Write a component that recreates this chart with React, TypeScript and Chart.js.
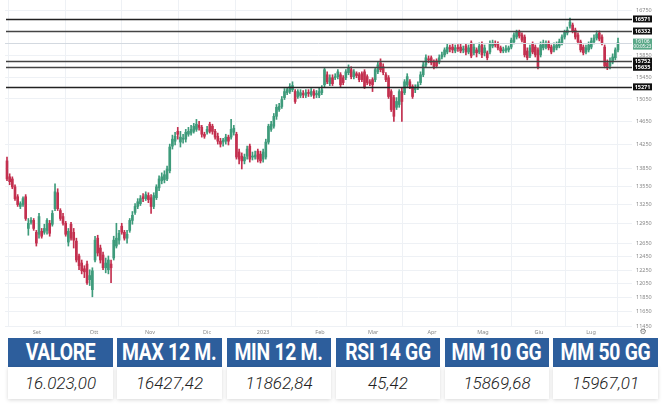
import React, { useEffect, useRef } from "react";
import { Chart, registerables } from "chart.js";
Chart.register(...registerables);

const opens = [13970,13705,13670,13540,13380,13225,13255,13380,12880,12975,13005,12820,12790,12835,12820,12850,12960,12945,13190,13445,13160,13065,12960,12670,12945,12820,12685,12460,12355,12270,12340,12110,11965,12400,12730,12580,12475,12285,12255,12340,12430,12610,12700,12915,12820,12730,12850,13005,13130,13225,13270,13380,13350,13400,13365,13225,13365,13525,13640,13655,13670,13805,14220,14305,14475,14290,14340,14340,14425,14445,14475,14510,14580,14545,14425,14460,14600,14565,14475,14390,14305,14290,14305,14375,14375,14460,14425,14120,14050,13970,14050,14220,14035,14035,14135,14085,14000,14035,14290,14510,14565,14740,14860,14915,15075,15165,15185,15220,15185,15095,15115,15150,15115,15165,15130,15185,15130,15115,15165,15310,15495,15330,15440,15440,15460,15495,15440,15440,15535,15590,15460,15515,15495,15515,15550,15460,15365,15405,15405,15550,15720,15645,15495,15440,15185,15075,14900,14950,15185,15165,15310,15365,15275,15220,15260,15350,15495,15680,15795,15815,15735,15755,15735,15830,15870,15925,16005,16020,15945,16010,16020,15965,16040,15925,16100,15910,15965,15925,16060,15910,15910,15925,16040,16080,16080,16005,15945,15955,15965,16020,16120,16215,16315,16255,16215,15945,15850,16080,16020,15965,15870,16005,16020,16100,16020,15965,16005,16040,16100,16215,16295,16430,16450,16350,16255,16120,16020,15925,15965,16020,16120,16195,16295,16215,16020,15720,15660,15735,15815,15965];
const highs = [14035,13755,13705,13575,13415,13300,13380,13415,13035,13050,13035,12850,13115,12880,12945,13035,13005,13160,13590,13510,13190,13115,12990,12880,12975,12880,12730,12490,12400,12315,12385,12255,12285,12760,12775,12625,12520,12430,12460,12400,12760,12960,12850,12960,12850,12850,13035,13145,13270,13350,13400,13430,13460,13445,13415,13445,13575,13720,13770,13805,13885,14255,14410,14460,14545,14475,14425,14510,14545,14580,14615,14685,14650,14580,14460,14565,14635,14600,14510,14445,14355,14355,14425,14410,14685,14580,14460,14170,14105,14085,14220,14255,14120,14135,14170,14135,14170,14340,14600,14650,14790,14950,14970,15095,15240,15260,15330,15365,15220,15220,15220,15205,15220,15220,15240,15220,15205,15260,15295,15625,15550,15495,15495,15515,15590,15535,15480,15590,15680,15645,15590,15550,15535,15550,15590,15495,15405,15440,15625,15735,15795,15700,15535,15480,15220,15115,15075,15220,15260,15405,15515,15405,15310,15310,15365,15550,15735,15870,15850,15850,15775,15795,15870,15925,16005,16080,16060,16080,16060,16070,16080,16040,16080,16060,16140,16080,16005,16100,16120,16060,15945,16140,16155,16140,16120,16040,16020,16050,16040,16195,16295,16350,16350,16295,16255,16005,16060,16120,16060,16005,16120,16155,16140,16140,16060,16100,16120,16175,16255,16350,16410,16590,16490,16390,16295,16155,16060,16060,16120,16195,16255,16335,16335,16255,16060,15775,15815,15890,16005,16195];
const lows = [13640,13575,13510,13320,13225,13190,13225,13005,12775,12945,12850,12610,12730,12730,12790,12790,12760,12915,13160,13160,13005,12930,12760,12610,12700,12580,12370,12255,12195,12140,12040,12025,11863,12370,12460,12355,12255,12210,12195,12065,12400,12580,12640,12790,12700,12655,12820,12945,13100,13190,13240,13300,13320,13285,13115,13190,13335,13480,13590,13605,13640,13770,14170,14240,14340,14205,14270,14290,14390,14410,14445,14475,14495,14375,14355,14425,14445,14425,14340,14255,14205,14220,14255,14240,14340,14410,14000,13920,13835,13920,14000,13950,13985,14000,13950,13935,13950,14000,14255,14475,14530,14685,14825,14880,15040,15130,15150,15185,14970,15060,15075,15075,15075,15095,15095,15060,15075,15075,15130,15275,15330,15295,15295,15405,15420,15275,15310,15405,15495,15420,15420,15440,15365,15365,15240,15310,15295,15185,15365,15515,15550,15495,15365,15060,14825,14650,14860,14900,14650,15130,15275,15240,15060,15165,15220,15310,15460,15645,15720,15680,15605,15625,15700,15795,15830,15890,15925,15910,15910,15935,15910,15910,15870,15890,15815,15870,15830,15890,15815,15850,15775,15890,16005,16020,15965,15910,15910,15915,15925,15985,16080,16175,16195,16120,15830,15775,15815,15890,15830,15605,15830,15965,15985,15965,15890,15925,15965,16005,16060,16175,16255,16390,16295,16175,16080,15925,15870,15890,15925,15985,16080,16155,16140,16060,15625,15590,15605,15700,15775,15925];
const closes = [13670,13625,13540,13350,13255,13270,13350,13035,12960,13005,12880,12655,13065,12760,12880,13005,12805,13115,13460,13190,13035,12960,12790,12835,12730,12700,12400,12315,12240,12225,12065,12170,12240,12700,12505,12400,12285,12355,12400,12285,12700,12730,12805,12820,12730,12790,13005,13085,13225,13300,13350,13350,13415,13335,13225,13400,13540,13670,13705,13740,13835,14205,14340,14390,14425,14375,14355,14460,14475,14510,14565,14600,14545,14425,14390,14510,14475,14475,14375,14305,14255,14325,14375,14305,14510,14530,14035,14000,13970,14035,14170,14000,14050,14070,14000,13970,14120,14290,14565,14600,14740,14900,14915,15040,15185,15220,15275,15295,15005,15185,15165,15130,15165,15150,15185,15115,15150,15185,15220,15590,15365,15440,15330,15460,15550,15310,15350,15550,15625,15460,15550,15480,15405,15405,15275,15350,15330,15310,15590,15680,15590,15535,15405,15095,14860,14740,15005,15185,15005,15365,15460,15275,15095,15260,15310,15495,15680,15815,15775,15720,15645,15660,15815,15870,15965,16020,15985,15965,16005,15990,15945,15985,15925,16005,15850,16020,15910,16040,15870,16005,15815,16080,16100,16060,16005,15945,15965,15990,16005,16155,16255,16315,16235,16155,15870,15815,16005,15925,15870,15645,16060,16100,16080,16005,15925,16040,16060,16120,16215,16315,16350,16510,16335,16215,16120,15965,15910,16005,16060,16140,16195,16275,16175,16100,15660,15625,15735,15830,15965,16106];

const monthLabels = ["Set", "Ott", "Nov", "Dic", "2023", "Feb", "Mar", "Apr", "Mag", "Giu", "Lug"];
const monthPos = [11.2, 32.6, 53.6, 75, 96, 117.3, 137.2, 159.3, 178.4, 199.4, 218.9];
const yTicks = [11450, 11650, 11850, 12050, 12250, 12450, 12650, 12950, 13250, 13550, 13850, 14250, 14650, 15050, 15450, 15850, 16750];
const levels = [16571, 16332, 15752, 15635, 15271];
const lastPrice = 16106;
const countdown = "00:05:23";

const headers = ["VALORE", "MAX 12 M.", "MIN 12 M.", "RSI 14 GG", "MM 10 GG", "MM 50 GG"];
const values = ["16.023,00", "16427,42", "11862,84", "45,42", "15869,68", "15967,01"];

const UP = "#3e9b7b";
const DOWN = "#c3304f";
const FONT = "'Noto Sans', 'DejaVu Sans', sans-serif";

const colLeft = [8, 117, 227, 336, 445, 553];
const colWidth = [105, 105, 104, 104, 104, 105];

export default function App() {
  const ref = useRef<HTMLCanvasElement | null>(null);

  useEffect(() => {
    if (!ref.current) return;
    const colors = opens.map((o, i) => (closes[i] >= o ? UP : DOWN));

    const levelsPlugin = {
      id: "levels",
      afterDatasetsDraw(chart: any) {
        const { ctx, chartArea, scales } = chart;
        const y = scales.y;
        ctx.save();
        const yl = Math.round(y.getPixelForValue(lastPrice)) + 0.5;
        ctx.strokeStyle = "#d3d9e0";
        ctx.lineWidth = 1;
        ctx.beginPath();
        ctx.moveTo(chartArea.left, yl);
        ctx.lineTo(chartArea.right, yl);
        ctx.stroke();
        levels.forEach((v, k) => {
          const py = Math.round(y.getPixelForValue(v)) + 0.5;
          ctx.strokeStyle = k === 0 || k === 4 ? "#222" : "#444";
          ctx.lineWidth = 1.4;
          ctx.beginPath();
          ctx.moveTo(chartArea.left + 1, py);
          ctx.lineTo(chartArea.right, py);
          ctx.stroke();
        });
        ctx.restore();
      },
      afterDraw(chart: any) {
        const { ctx, chartArea, scales } = chart;
        const y = scales.y;
        const bx = chartArea.right + 1;
        ctx.save();
        ctx.textAlign = "center";
        ctx.textBaseline = "middle";
        levels.forEach((v) => {
          const py = y.getPixelForValue(v);
          ctx.fillStyle = "#111";
          ctx.fillRect(bx, py - 3.5, 19, 7);
          ctx.fillStyle = "#fff";
          ctx.font = `bold 5.5px ${FONT}`;
          ctx.fillText(String(v), bx + 9.5, py + 0.3);
        });
        const pc = y.getPixelForValue(lastPrice);
        ctx.fillStyle = "#5aa888";
        ctx.fillRect(bx, pc - 4, 19, 11);
        ctx.fillStyle = "#fff";
        ctx.font = `5px ${FONT}`;
        ctx.fillText(String(lastPrice), bx + 9.5, pc - 1);
        ctx.font = `4.5px ${FONT}`;
        ctx.fillText(countdown, bx + 9.5, pc + 4);
        ctx.fillStyle = "#777";
        ctx.font = "8px 'DejaVu Sans'";
        ctx.fillText("\u2699", 643, chartArea.bottom + 5);
        ctx.restore();
      },
    };

    const chart = new Chart(ref.current, {
      type: "bar",
      data: {
        datasets: [
          {
            data: lows.map((l, i) => ({ x: i, y: [l, highs[i]] })) as any,
            backgroundColor: colors,
            barThickness: 1,
            grouped: false,
            order: 2,
          } as any,
          {
            data: opens.map((o, i) => ({ x: i, y: [o, closes[i]] })) as any,
            backgroundColor: colors,
            barThickness: 2,
            minBarLength: 1,
            grouped: false,
            order: 1,
          } as any,
        ],
      },
      options: {
        animation: false,
        responsive: false,
        maintainAspectRatio: false,
        layout: { padding: { left: 5, right: 0, top: 0, bottom: 0 } },
        plugins: { legend: { display: false }, tooltip: { enabled: false } },
        scales: {
          x: {
            type: "linear",
            min: -0.75,
            max: 234.25,
            offset: false,
            afterBuildTicks: (s: any) => {
              s.ticks = monthPos.map((v) => ({ value: v }));
            },
            afterFit: (s: any) => {
              s.height = 10;
              s.paddingLeft = 0;
              s.paddingRight = 0;
            },
            ticks: {
              autoSkip: false,
              maxRotation: 0,
              padding: 2,
              color: "#888",
              font: { size: 5.5, family: FONT },
              callback: (_v: any, idx: number) => monthLabels[idx],
            },
            grid: { color: "#eef1f5", drawTicks: false },
            border: { display: false },
          },
          y: {
            type: "logarithmic",
            position: "right",
            min: 11440,
            max: 16953,
            afterBuildTicks: (s: any) => {
              s.ticks = yTicks.map((v) => ({ value: v }));
            },
            afterFit: (s: any) => {
              s.width = 34;
              s.paddingTop = 0;
              s.paddingBottom = 0;
            },
            ticks: {
              autoSkip: false,
              padding: 4,
              color: "#888",
              font: { size: 5.5, family: FONT },
              callback: (v: any) => String(v),
            },
            grid: { color: "#eef1f5", drawTicks: false },
            border: { display: false },
          },
        },
      },
      plugins: [levelsPlugin],
    } as any);
    return () => chart.destroy();
  }, []);

  return (
    <div style={{ position: "fixed", left: 0, top: 0, width: 666, height: 408, background: "#fff", overflow: "hidden" }}>
      <canvas ref={ref} width={666} height={337} style={{ position: "absolute", left: 0, top: 0, width: 666, height: 337 }} />
      {headers.map((h, i) => (
        <div
          key={"h" + i}
          style={{
            position: "absolute",
            left: colLeft[i],
            top: 338,
            width: colWidth[i],
            height: 29,
            background: "#2d5e9c",
            color: "#fff",
            display: "flex",
            alignItems: "center",
            justifyContent: "center",
            overflow: "hidden",
          }}
        >
          <span
            style={{
              display: "inline-block",
              fontFamily: "Roboto, 'Noto Sans', sans-serif",
              fontWeight: 700,
              fontSize: 23,
              lineHeight: "29px",
              whiteSpace: "nowrap",
              transform: "scaleX(0.84)",
              letterSpacing: -0.3,
            }}
          >
            {h}
          </span>
        </div>
      ))}
      {values.map((v, i) => (
        <div
          key={"v" + i}
          style={{
            position: "absolute",
            left: colLeft[i],
            top: 367,
            width: colWidth[i],
            height: 32,
            background: "#fff",
            boxShadow: "0 1px 4px rgba(0,0,0,0.16)",
            color: "#222",
            display: "flex",
            alignItems: "center",
            justifyContent: "center",
            fontFamily: "Roboto, 'Noto Sans', sans-serif",
            fontStyle: "italic",
            fontWeight: 300,
            fontSize: 17,
            whiteSpace: "nowrap",
          }}
        >
          {v}
        </div>
      ))}
    </div>
  );
}
